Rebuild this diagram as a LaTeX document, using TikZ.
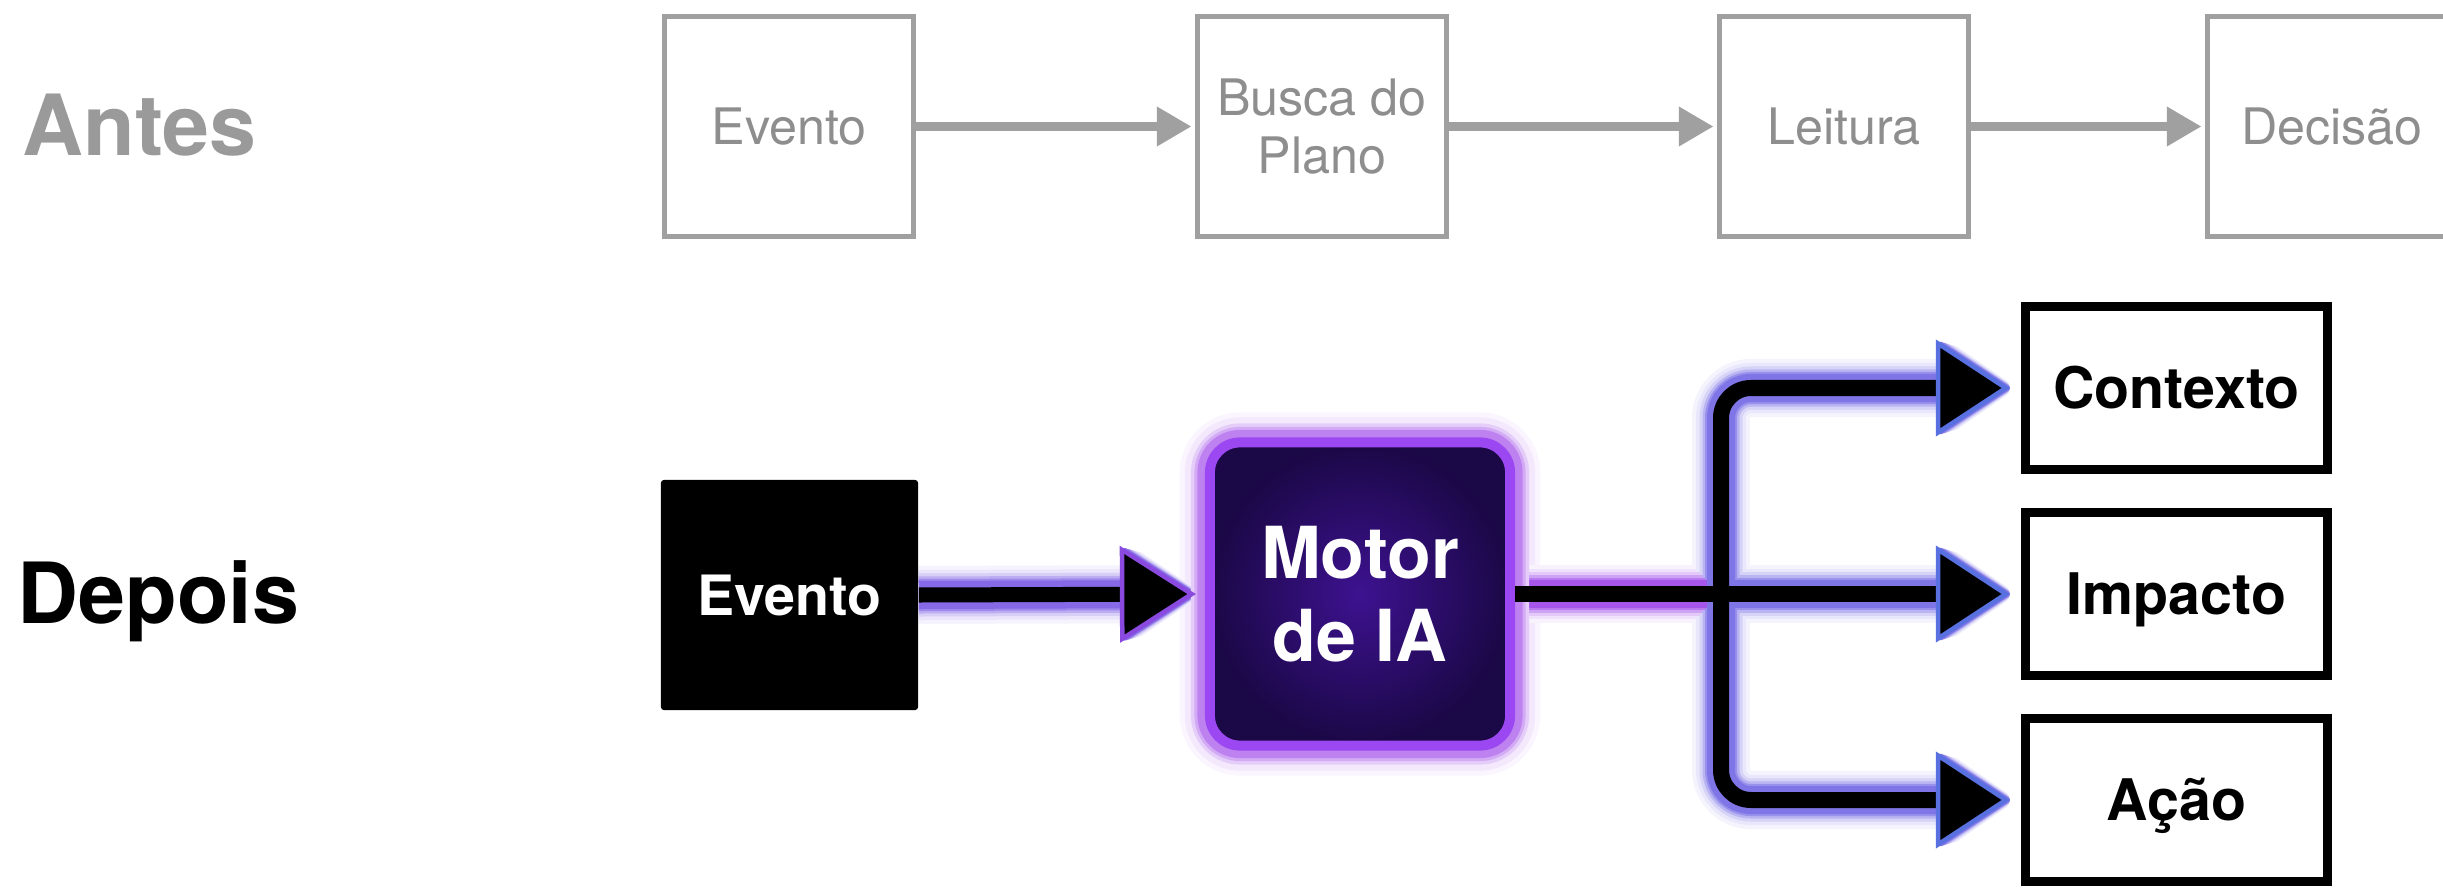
\documentclass[tikz,border=0pt]{standalone}
\usepackage{fontspec}
\setmainfont{TeX Gyre Heros}
\usetikzlibrary{arrows.meta,calc}
\definecolor{oldgray}{HTML}{A0A0A0}
\definecolor{oldtext}{HTML}{8E8E8E}
\definecolor{antesgray}{HTML}{9A9A9A}
\definecolor{glowP}{HTML}{9B3FE8}
\definecolor{glowM}{HTML}{7455E4}
\definecolor{glowB}{HTML}{6E62E4}
\definecolor{tipB}{HTML}{5870E0}
\definecolor{tipP}{HTML}{8A4AE0}
\definecolor{motorin}{HTML}{3D1290}
\definecolor{motorout}{HTML}{1B0846}
\definecolor{motorborder}{HTML}{9C48F2}
\pgfdeclarelayer{bg}
\pgfdeclarelayer{glow}
\pgfsetlayers{bg,glow,main}
\begin{document}
\begin{tikzpicture}[x=0.01cm,y=-0.01cm,
  lbl/.style={anchor=base west, inner sep=0pt, font=\fontsize{24}{28}\selectfont\bfseries},
  oldbox/.style={draw=oldgray, line width=0.05cm, minimum width=2.49cm, minimum height=2.2cm,
    inner sep=0pt, text=oldtext, font=\fontsize{14.3}{16.5}\selectfont, align=center},
  oldarrow/.style={draw=oldgray, line width=0.09cm,
    -{Triangle[length=0.34cm,width=0.4cm,line width=0pt]}, shorten >=0.04cm},
  evbox/.style={fill=black, text=white, minimum width=2.57cm, minimum height=2.3cm, inner sep=0pt,
    rounded corners=0.03cm, font=\fontsize{15.8}{18}\selectfont\bfseries, text height=11.4pt, text depth=0pt},
  motorbox/.style={draw=motorborder, line width=0.1cm, rounded corners=0.3cm,
    inner color=motorin, outer color=motorout, minimum width=3.0cm, minimum height=3.03cm,
    inner sep=0pt, text=white, font=\fontsize{20.4}{23.5}\selectfont\bfseries, align=center},
  newbox/.style={draw=black, line width=0.09cm, fill=white, minimum width=3.02cm, minimum height=1.63cm,
    inner sep=0pt, font=\fontsize{16.3}{19}\selectfont\bfseries, text height=11.7pt, text depth=0pt},
  core/.style={draw=black, line width=0.16cm},
  corearrow/.style={-{Triangle[length=0.74cm,width=0.96cm,line width=0.045cm,fill=black,color=tipB]}, shorten >=0.11cm},
  corearrowP/.style={-{Triangle[length=0.76cm,width=0.96cm,line width=0.045cm,fill=black,color=tipP]}, shorten >=0.09cm}
]
\begin{pgfonlayer}{bg}
  \fill[white] (0,0) rectangle (2443,888);
\end{pgfonlayer}
\useasboundingbox (0,0) rectangle (2443,888);

% row labels
\node[lbl, text=antesgray] (antes) at (22,156) {Antes};
\node[lbl] (depois) at (17,623) {Depois};

% before row
\node[oldbox] (o1) at (789,126.5) {Evento};
\node[oldbox] (o2) at (1322,126.5) {Busca do\\Plano};
\node[oldbox] (o3) at (1844,126.5) {Leitura};
\node[oldbox] (o4) at (2332,126.5) {Decisão};
\draw[oldarrow] (o1) -- (o2);
\draw[oldarrow] (o2) -- (o3);
\draw[oldarrow] (o3) -- (o4);

% after row
\node[evbox] (ev) at (789.5,595) {Evento};
\node[motorbox] (motor) at (1360,594) {Motor\\de IA};
\node[newbox] (ctx) at (2176.5,388) {Contexto};
\node[newbox] (imp) at (2176.5,594) {Impacto};
\node[newbox] (acao) at (2176.5,800) {Ação};
\coordinate (j) at (1721,594);

% glow layer
\begin{pgfonlayer}{glow}
  \foreach \mw/\mt in {0.50/5, 0.40/12}{
    \draw[glowP!\mt, line width=\mw cm, rounded corners=0.35cm] (motor.south west) rectangle (motor.north east);
  }
  \foreach \gw/\gt/\gs in {0.58/7/0.22, 0.50/15/0.17, 0.43/28/0.13, 0.37/48/0.10, 0.32/70/0.07, 0.28/88/0.05}{
    \draw[line width=\gw cm, draw=glowM!\gt, shorten >=0.09cm,
      -{Triangle[length=0.76cm,width=0.96cm,line width=\gs cm,round,fill=glowM!\gt,color=glowM!\gt]}] (ev.east) -- (motor.west);
    \draw[line width=\gw cm, draw=glowP!\gt] (motor.east) -- (j);
    \draw[line width=\gw cm, draw=glowB!\gt, rounded corners=0.3cm, shorten >=0.11cm,
      -{Triangle[length=0.74cm,width=0.96cm,line width=\gs cm,round,fill=glowB!\gt,color=glowB!\gt]}] (j) |- (ctx.west);
    \draw[line width=\gw cm, draw=glowB!\gt, shorten >=0.11cm,
      -{Triangle[length=0.74cm,width=0.96cm,line width=\gs cm,round,fill=glowB!\gt,color=glowB!\gt]}] (j) -- (imp.west);
    \draw[line width=\gw cm, draw=glowB!\gt, rounded corners=0.3cm, shorten >=0.11cm,
      -{Triangle[length=0.74cm,width=0.96cm,line width=\gs cm,round,fill=glowB!\gt,color=glowB!\gt]}] (j) |- (acao.west);
  }
  \foreach \mw/\mt in {0.28/26, 0.21/44, 0.15/65}{
    \draw[glowP!\mt, line width=\mw cm, rounded corners=0.35cm] (motor.south west) rectangle (motor.north east);
  }
\end{pgfonlayer}

% core connectors
\draw[core, line width=0.15cm, corearrowP] (ev.east) -- (motor.west);
\draw[core] (motor.east) -- (j);
\draw[core, corearrow, rounded corners=0.3cm] (j) |- (ctx.west);
\draw[core, corearrow] (j) -- (imp.west);
\draw[core, corearrow, rounded corners=0.3cm] (j) |- (acao.west);
\end{tikzpicture}
\end{document}
